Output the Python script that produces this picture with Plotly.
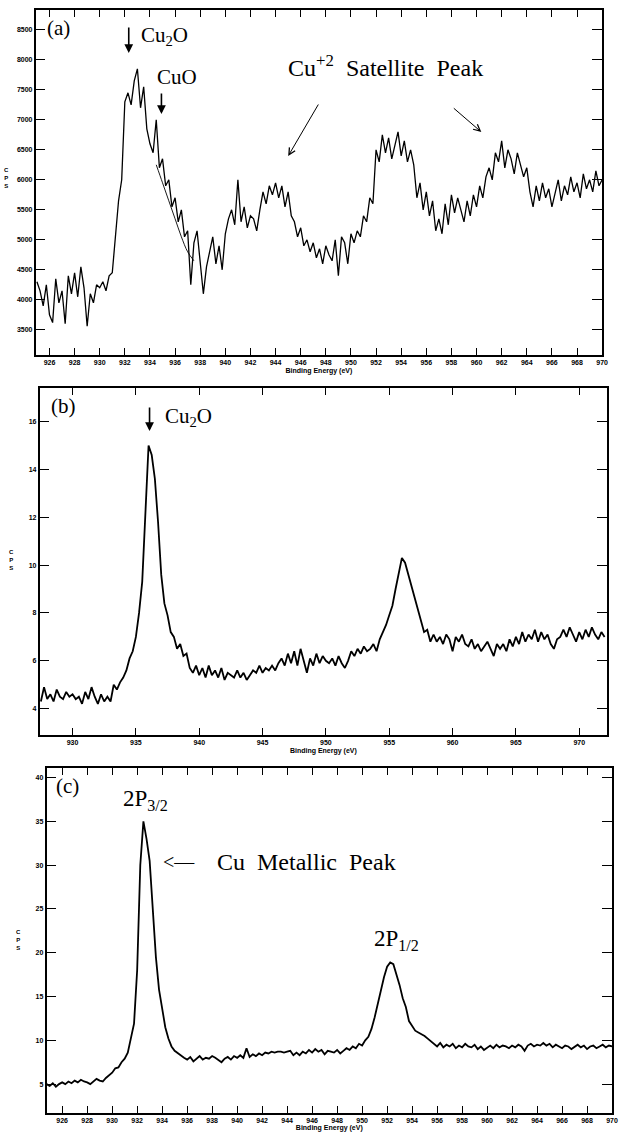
import numpy as np
import plotly.graph_objects as go

W, H = 624, 1132

# ---------------- data ----------------
# Panel (a): 0.25 eV sampling starting at 925.00 eV
a_start, a_step = 925.0, 0.25
cps_a = [
    4300, 4150, 3900, 4250,   # 925
    3750, 3620, 4350, 3950,   # 926
    4150, 3600, 4400, 4100,   # 927
    4450, 4050, 4550, 4200,   # 928
    3560, 4100, 3950, 4250,   # 929
    4200, 4300, 4150, 4400,   # 930
    4450, 5050, 5650, 6000,   # 931
    7300, 7450, 7250, 7650,   # 932
    7850, 7200, 7550, 6850,   # 933
    6600, 6450, 7000, 6200,   # 934
    6350, 5900, 6000, 5550,   # 935
    5700, 5300, 5500, 5050,   # 936
    5150, 4250, 4950, 5150,   # 937
    4650, 4100, 4550, 4800,   # 938
    5050, 4600, 4900, 4500,   # 939
    5100, 5350, 5500, 5250,   # 940
    6000, 5300, 5550, 5200,   # 941
    5400, 5350, 5150, 5500,   # 942
    5800, 5600, 5900, 5750,   # 943
    5950, 5700, 5900, 5550,   # 944
    5800, 5400, 5300, 5050,   # 945
    5200, 4900, 5000, 4800,   # 946
    4950, 4700, 4850, 4600,   # 947
    4900, 4750, 4650, 5000,   # 948
    4400, 5050, 4950, 4600,   # 949
    5100, 4950, 5150, 5050,   # 950
    5400, 5300, 5700, 5600,   # 951
    6500, 6300, 6750, 6450,   # 952
    6700, 6350, 6600, 6800,   # 953
    6400, 6650, 6300, 6500,   # 954
    6250, 5700, 5950, 5500,   # 955
    5800, 5400, 5650, 5150,   # 956
    5350, 5100, 5600, 5250,   # 957
    5750, 5450, 5700, 5500,   # 958
    5300, 5650, 5400, 5750,   # 959
    5550, 5900, 5700, 6050,   # 960
    6200, 6000, 6450, 6300,   # 961
    6650, 6200, 6500, 6350,   # 962
    6100, 6450, 6250, 6050,   # 963
    6200, 5800, 5550, 5900,   # 964
    5650, 5950, 5700, 5850,   # 965
    5550, 5800, 6000, 5650,   # 966
    5900, 5750, 6050, 5800,   # 967
    5950, 5700, 6100, 5850,   # 968
    6000, 5800, 6150, 5900,   # 969
    6000,                     # 970
]
# smooth envelope line drawn under the CuO shoulder in panel (a)
fit_a_x = [934.5, 935.0, 935.5, 936.0, 936.5, 937.0, 937.5]
fit_a_y = [6250, 5950, 5650, 5350, 5050, 4800, 4650]

# Panel (b): 0.25 eV sampling starting at 927.50 eV (values in k counts)
b_start, b_step = 927.5, 0.25
cps_b = [
    4.3, 4.9, 4.4, 4.6,   # 927.5
    4.3, 4.8, 4.5, 4.4,   # 928.5
    4.7, 4.5, 4.6, 4.4,   # 929.5
    4.5, 4.2, 4.7, 4.4,   # 930.5
    4.9, 4.5, 4.2, 4.6,   # 931.5
    4.3, 4.5, 4.3, 5.0,   # 932.5
    4.8, 5.1, 5.3, 5.6,   # 933.5
    6.1, 6.4, 7.0, 8.0,   # 934.5
    9.3, 12.0, 15.0, 14.6,  # 935.5
    13.6, 11.8, 9.6, 8.4,   # 936.5
    7.9, 7.2, 7.0, 6.5,   # 937.5
    6.7, 6.2, 6.3, 5.7,   # 938.5
    5.5, 5.8, 5.4, 5.7,   # 939.5
    5.3, 5.8, 5.4, 5.6,   # 940.5
    5.3, 5.7, 5.2, 5.5,   # 941.5
    5.4, 5.3, 5.6, 5.3,   # 942.5
    5.5, 5.2, 5.4, 5.6,   # 943.5
    5.5, 5.8, 5.5, 5.7,   # 944.5
    5.6, 5.8, 5.6, 5.9,   # 945.5
    6.1, 5.8, 6.3, 5.9,   # 946.5
    6.4, 5.8, 6.5, 6.0,   # 947.5
    5.5, 6.1, 5.8, 6.3,   # 948.5
    5.9, 6.2, 6.0, 5.9,   # 949.5
    6.1, 5.8, 6.2, 5.9,   # 950.5
    5.7, 6.0, 6.4, 6.2,   # 951.5
    6.5, 6.3, 6.6, 6.4,   # 952.5
    6.5, 6.7, 6.4, 6.9,   # 953.5
    7.2, 7.5, 7.9, 8.3,   # 954.5
    9.0, 9.7, 10.3, 10.1,  # 955.5
    9.6, 9.1, 8.7, 8.2,   # 956.5
    7.7, 7.2, 7.3, 6.8,   # 957.5
    7.1, 6.8, 7.0, 6.7,   # 958.5
    7.1, 6.9, 6.4, 7.0,   # 959.5
    6.8, 7.1, 6.7, 6.6,   # 960.5
    6.9, 6.5, 6.7, 6.4,   # 961.5
    6.6, 6.8, 6.5, 6.2,   # 962.5
    6.7, 6.5, 6.7, 6.4,   # 963.5
    6.9, 6.6, 7.0, 6.7,   # 964.5
    7.2, 6.8, 7.1, 6.9,   # 965.5
    7.3, 6.8, 7.2, 6.9,   # 966.5
    7.1, 6.7, 6.5, 6.9,   # 967.5
    7.0, 7.3, 7.0, 7.4,   # 968.5
    7.1, 6.8, 7.2, 6.9,   # 969.5
    7.3, 7.0, 7.4, 7.1,   # 970.5
    6.9, 7.2, 7.0,        # 971.5
]

# Panel (c): 0.25 eV sampling starting at 924.75 eV (values in k counts)
c_start, c_step = 924.75, 0.25
cps_c = [
    5.0, 4.8, 5.1, 4.7,   # 924.75
    5.0, 5.2, 5.0, 5.3,   # 925.75
    5.1, 5.4, 5.2, 5.5,   # 926.75
    5.3, 5.2, 5.0, 5.3,   # 927.75
    5.6, 5.4, 5.3, 5.7,   # 928.75
    6.0, 6.3, 6.8, 6.9,   # 929.75
    7.5, 7.9, 8.6, 10.2,  # 930.75
    11.9, 18.0, 30.0, 35.0,  # 931.75
    33.0, 30.5, 25.0, 19.5,  # 932.75
    15.8, 13.5, 11.5, 10.2,  # 933.75
    9.3, 8.8, 8.5, 8.2,   # 934.75
    8.0, 7.8, 8.1, 7.6,   # 935.75
    7.9, 8.2, 7.8, 8.0,   # 936.75
    7.9, 8.2, 8.0, 7.7,   # 937.75
    7.5, 7.9, 8.1, 7.8,   # 938.75
    8.2, 8.0, 8.3, 8.0,   # 939.75
    9.1, 8.1, 8.4, 8.2,   # 940.75
    8.5, 8.3, 8.6, 8.5,   # 941.75
    8.7, 8.6, 8.7, 8.7,   # 942.75
    8.6, 8.7, 8.8, 8.3,   # 943.75
    8.6, 8.3, 8.7, 8.5,   # 944.75
    8.9, 8.6, 9.0, 8.7,   # 945.75
    8.9, 8.4, 8.8, 8.7,   # 946.75
    8.6, 8.9, 8.5, 8.8,   # 947.75
    9.1, 8.9, 9.3, 9.1,   # 948.75
    9.6, 9.4, 10.0, 10.4,  # 949.75
    11.3, 12.6, 14.2, 15.8,  # 950.75
    17.2, 18.4, 18.9, 18.7,  # 951.75
    17.6, 16.3, 14.8, 13.8,  # 952.75
    12.2, 11.6, 11.1, 10.9,  # 953.75
    10.7, 10.5, 10.2, 9.9,   # 954.75
    9.6, 9.3, 9.7, 9.2,   # 955.75
    9.5, 9.3, 9.6, 9.1,   # 956.75
    9.4, 9.2, 9.6, 9.3,   # 957.75
    9.2, 9.5, 9.0, 9.3,   # 958.75
    8.9, 9.2, 9.4, 9.1,   # 959.75
    9.5, 9.2, 9.4, 9.3,   # 960.75
    9.1, 9.4, 9.2, 9.5,   # 961.75
    9.3, 8.8, 9.4, 9.6,   # 962.75
    9.3, 9.5, 9.4, 9.7,   # 963.75
    9.4, 9.6, 9.2, 9.5,   # 964.75
    9.3, 9.1, 9.4, 9.3,   # 965.75
    9.0, 9.3, 9.5, 9.2,   # 966.75
    9.4, 9.0, 9.3, 9.4,   # 967.75
    9.1, 9.3, 9.5, 9.2,   # 968.75
    9.4, 9.3,             # 969.75
]

a_xticks = list(range(926, 971, 2))
a_yticks = list(range(3500, 8501, 500))
b_xticks = list(range(930, 971, 5))
b_yticks = list(range(4, 17, 2))
c_xticks = list(range(926, 971, 2))
c_yticks = list(range(5, 41, 5))

x_a = a_start + a_step * np.arange(len(cps_a))
x_b = b_start + b_step * np.arange(len(cps_b))
x_c = c_start + c_step * np.arange(len(cps_c))

# ---------------- figure ----------------
def PX(x):
    return x / W

def PY(y):
    return 1 - y / H

fig = go.Figure()
fig.add_trace(go.Scatter(x=x_a, y=cps_a, xaxis="x", yaxis="y", mode="lines",
                         line=dict(color="black", width=1.3)))
fig.add_trace(go.Scatter(x=fit_a_x, y=fit_a_y, xaxis="x", yaxis="y", mode="lines",
                         line=dict(color="black", width=0.9, shape="spline")))
fig.add_trace(go.Scatter(x=x_b, y=cps_b, xaxis="x2", yaxis="y2", mode="lines",
                         line=dict(color="black", width=1.8)))
fig.add_trace(go.Scatter(x=x_c, y=cps_c, xaxis="x3", yaxis="y3", mode="lines",
                         line=dict(color="black", width=1.8)))

tickfont = dict(family="Liberation Sans", size=7, color="black", weight="bold")
common = dict(showline=True, linecolor="black", linewidth=1.5, mirror="ticks",
              ticks="inside", tickcolor="black", tickwidth=1.2, showgrid=False,
              zeroline=False, tickfont=tickfont)
xtitle = dict(text="Binding Energy (eV)",
              font=dict(family="Liberation Sans", size=7, color="black", weight="bold"),
              standoff=3)

fig.update_layout(
    width=W, height=H, margin=dict(l=0, r=0, t=0, b=0),
    paper_bgcolor="white", plot_bgcolor="white", showlegend=False,
    xaxis=dict(domain=[PX(36), PX(608)], range=[924.9, 970], tickvals=a_xticks,
               ticklen=7, anchor="y", title=xtitle, **common),
    yaxis=dict(domain=[PY(355), PY(10)], range=[3080, 8830], tickvals=a_yticks,
               ticklen=10, anchor="x", **common),
    xaxis2=dict(domain=[PX(40), PX(613)], range=[927.4, 972.2], tickvals=b_xticks,
                ticklen=7, anchor="y2", title=xtitle, **common),
    yaxis2=dict(domain=[PY(735), PY(388)], range=[2.9, 17.4], tickvals=b_yticks,
                ticklen=10, anchor="x2", **common),
    xaxis3=dict(domain=[PX(47), PX(618)], range=[924.75, 970], tickvals=c_xticks,
                ticklen=7, anchor="y3", title=xtitle, **common),
    yaxis3=dict(domain=[PY(1113), PY(768)], range=[1.7, 41.1], tickvals=c_yticks,
                ticklen=10, anchor="x3", **common),
)

serif = "Liberation Serif"

def text(x, y, s, size=21, anchor="center"):
    fig.add_annotation(x=PX(x), y=PY(y), xref="paper", yref="paper", text=s,
                       showarrow=False, xanchor=anchor, yanchor="middle",
                       font=dict(family=serif, size=size, color="black"))

def arrow(x0, y0, x1, y1, head=2, size=1.0, width=1.2):
    # tail (x0, y0) -> tip (x1, y1), in pixels
    fig.add_annotation(x=PX(x1), y=PY(y1), xref="paper", yref="paper",
                       ax=x0 - x1, ay=y0 - y1, text="", showarrow=True,
                       arrowhead=head, arrowsize=size, arrowwidth=width,
                       arrowcolor="black")

# panel (a)
text(45, 28, "(a)", 21, "left")
arrow(130, 26, 130, 53, head=2, size=1.1, width=1.6)
text(140, 36, "Cu<sub>2</sub>O", 21, "left")
text(157, 77, "CuO", 21, "left")
arrow(163, 92, 163, 114, head=2, size=1.1, width=1.6)
text(289, 66, "Cu<sup>+2</sup>&nbsp;&nbsp;Satellite&nbsp;&nbsp;Peak", 24, "left")
arrow(322, 103, 291, 156, head=5, size=1.3, width=1.0)
arrow(457, 107, 486, 132, head=5, size=1.3, width=1.0)

# panel (b)
text(49, 406, "(b)", 21, "left")
arrow(151, 406, 151, 431, head=2, size=1.1, width=1.6)
text(165, 417, "Cu<sub>2</sub>O", 21, "left")

# panel (c)
text(55, 786, "(c)", 21, "left")
text(122, 800, "2P<sub>3/2</sub>", 23, "left")
text(163, 862, "&lt;—", 20, "left")
text(217, 862, "Cu&nbsp;&nbsp;Metallic&nbsp;&nbsp;Peak", 24, "left")
text(376, 940, "2P<sub>1/2</sub>", 23, "left")

# CPS axis labels
cps_font = dict(family="Liberation Sans", size=6, color="black", weight="bold")
for (cx, cy) in [(7, 178), (12, 560), (19, 940)]:
    fig.add_annotation(x=PX(cx), y=PY(cy), xref="paper", yref="paper",
                       text="C<br>P<br>S", showarrow=False, xanchor="center",
                       yanchor="middle", font=cps_font)

fig.write_html("out.html")
